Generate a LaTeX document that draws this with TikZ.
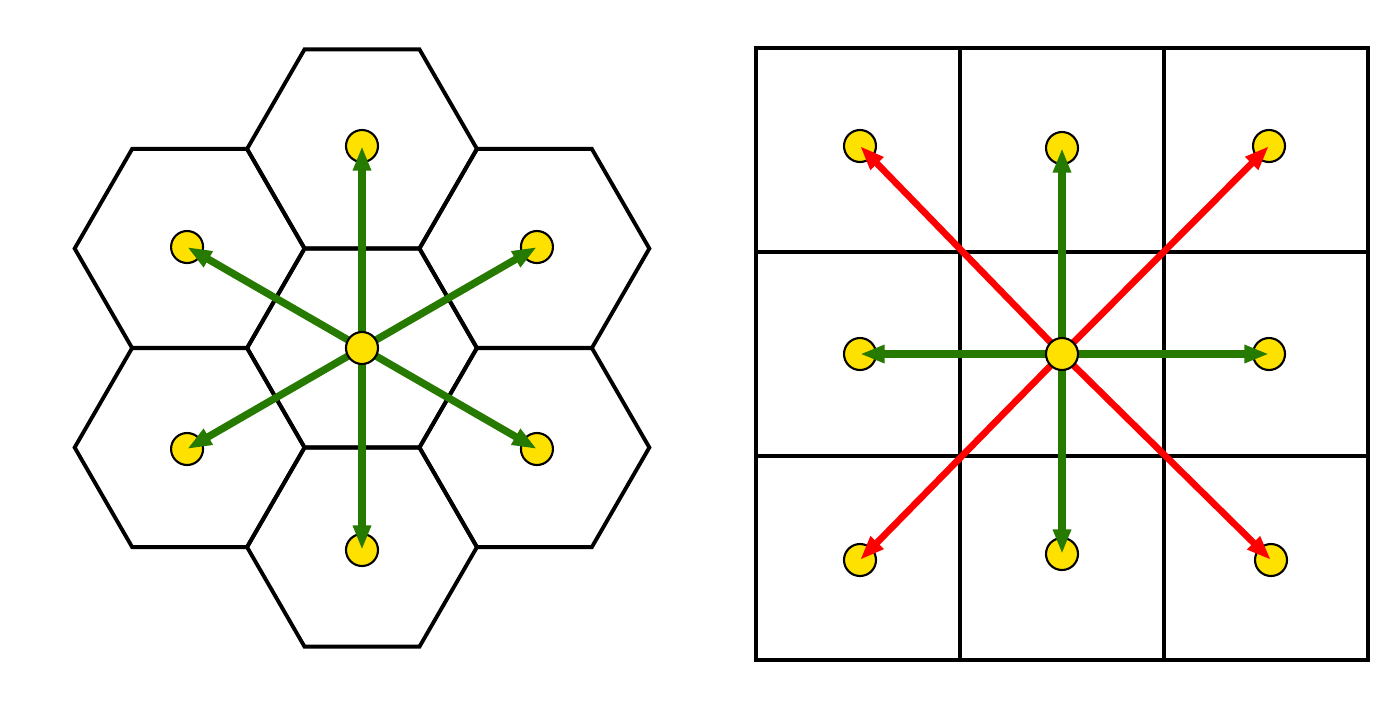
\documentclass[tikz,border=0pt]{standalone}
\usepackage{tikz}
\usetikzlibrary{calc,arrows.meta,shapes.geometric}

\definecolor{leafgreen}{RGB}{38,122,0}
\definecolor{dotyellow}{RGB}{255,225,0}

\begin{document}
\begin{tikzpicture}[
    cell/.style={draw, line width=1.1pt},
    hexcell/.style={cell, regular polygon, regular polygon sides=6, minimum size=2.3cm, inner sep=0pt},
    dot/.style={circle, draw, line width=0.6pt, fill=dotyellow, minimum size=0.32cm, inner sep=0pt},
    near/.style={line width=2.1pt, leafgreen, -{Triangle[length=7pt,width=4.8pt]}},
    diag/.style={line width=1.9pt, red, -{Triangle[length=7pt,width=4.8pt]}}
]
    \useasboundingbox (0,0) rectangle (14,7);
    % hexagonal neighbourhood
    \coordinate (H) at (3.62,3.52);
    \node[hexcell] at (H) {};
    \foreach \a in {30,90,...,330} {
        \node[hexcell] at ($(H)+(\a:1.99)$) {};
        \node[dot] (h\a) at ($(H)+(\a:2.02)$) {};
    }
    \foreach \a in {30,90,...,330} {\draw[near] (H) -- (h\a.center);}
    \node[dot] (hc) at (H) {};

    % square neighbourhood
    \coordinate (S) at (10.62,3.46);
    \foreach \i in {0,1,2} {
        \foreach \j in {0,1,2} {\draw[cell] (7.56+2.04*\i,0.40+2.04*\j) rectangle ++(2.04,2.04);}
    }
    \node[dot] (sN) at ($(S)+(0,2.06)$) {};
    \node[dot] (sS) at ($(S)+(0,-2.0)$) {};
    \node[dot] (sE) at ($(S)+(2.07,0)$) {};
    \node[dot] (sW) at ($(S)+(-2.02,0)$) {};
    \node[dot] (sNE) at ($(S)+(2.07,2.08)$) {};
    \node[dot] (sNW) at ($(S)+(-2.02,2.08)$) {};
    \node[dot] (sSE) at ($(S)+(2.09,-2.06)$) {};
    \node[dot] (sSW) at ($(S)+(-2.02,-2.06)$) {};
    \foreach \p in {sNE,sNW,sSE,sSW} {\draw[diag] (S) -- (\p.center);}
    \foreach \p in {sN,sS,sE,sW} {\draw[near] (S) -- (\p.center);}
    \node[dot] (sc) at (S) {};
\end{tikzpicture}
\end{document}
